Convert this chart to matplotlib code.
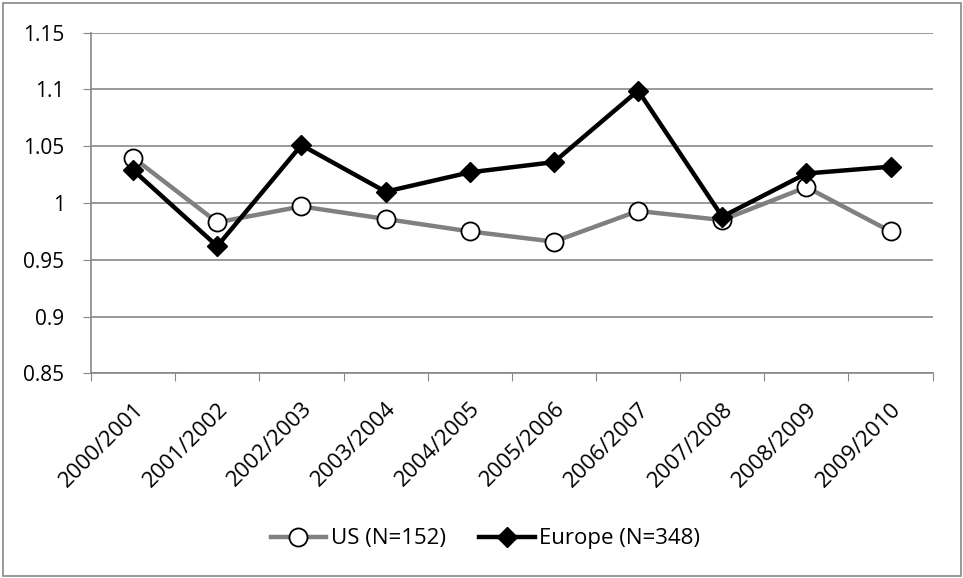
import matplotlib.pyplot as plt
from matplotlib.patches import Rectangle

seasons = ["2000/2001", "2001/2002", "2002/2003", "2003/2004", "2004/2005",
           "2005/2006", "2006/2007", "2007/2008", "2008/2009", "2009/2010"]
us = [1.040, 0.983, 0.997, 0.986, 0.975, 0.966, 0.993, 0.985, 1.014, 0.975]
europe = [1.029, 0.962, 1.051, 1.010, 1.027, 1.036, 1.099, 0.988, 1.026, 1.032]

plt.rcParams['font.family'] = ['Open Sans', 'DejaVu Sans']

fig = plt.figure(figsize=(9.63, 5.78), dpi=100)
ax = fig.add_axes([0.0945, 0.354, 0.874, 0.5895])

# outer frame of the chart
fig.patches.append(Rectangle((0.003, 0.004), 0.995, 0.991, transform=fig.transFigure,
                             fill=False, edgecolor='#888888', linewidth=1.2))

x = range(len(seasons))
ax.plot(x, us, color='#808080', linewidth=3.2, marker='o', markersize=13,
        markerfacecolor='white', markeredgecolor='black', markeredgewidth=1.3,
        label='US (N=152)', zorder=3)
ax.plot(x, europe, color='black', linewidth=3.2, marker='D', markersize=10,
        markerfacecolor='black', markeredgecolor='black',
        label='Europe (N=348)', zorder=4)

ax.set_xlim(-0.5, len(seasons) - 0.5)
ax.set_ylim(0.85, 1.15)
ax.set_yticks([0.85, 0.9, 0.95, 1.0, 1.05, 1.1, 1.15])
ax.set_yticklabels(['0.85', '0.9', '0.95', '1', '1.05', '1.1', '1.15'], fontsize=15)

# category boundaries carry the tick marks, centres carry the labels
ax.set_xticks([i - 0.5 for i in range(len(seasons) + 1)])
ax.set_xticklabels([])
ax.set_xticks(list(x), minor=True)
ax.set_xticklabels(seasons, minor=True, rotation=45, ha='right', rotation_mode='anchor',
                   fontsize=16)
ax.tick_params(axis='x', which='minor', length=0, pad=18)
ax.tick_params(axis='x', which='major', length=6, color='#888888', direction='out')
ax.tick_params(axis='y', length=6, color='#888888', direction='out', pad=13)

ax.grid(axis='y', color='#888888', linewidth=1.2)
ax.set_axisbelow(True)
for side in ['top', 'right']:
    ax.spines[side].set_visible(False)
for side in ['left', 'bottom']:
    ax.spines[side].set_color('#888888')
    ax.spines[side].set_linewidth(1.2)

fig.legend(loc='center', bbox_to_anchor=(0.504, 0.0675), ncol=2, frameon=False,
           fontsize=16, handlelength=2.5, handletextpad=0.2, columnspacing=1.5)

fig.savefig('out.png', dpi=100)
